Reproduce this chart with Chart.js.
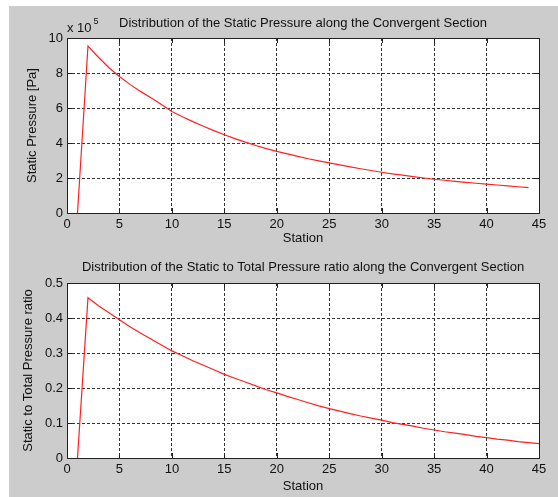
<!DOCTYPE html>
<html>
<head>
<meta charset="utf-8">
<script src="https://cdn.jsdelivr.net/npm/chart.js@4.4.1/dist/chart.umd.min.js"></script>
<style>
html, body { margin: 0; padding: 0; background: #fff; }
#fig { position: absolute; left: 9px; top: 6px; width: 549px; height: 491px; background: #cccccc; }
canvas { position: absolute; left: 0; }
#c1 { top: 0; }
#c2 { top: 244px; }
</style>
</head>
<body>
<div id="fig">
  <canvas id="c1" width="549" height="244"></canvas>
  <canvas id="c2" width="549" height="247"></canvas>
</div>
<script>
// station numbers and values
const stations1 = [1,2,3,4,5,6,7,8,9,10,11,12,13,14,15,16,17,18,19,20,21,22,23,24,25,26,27,28,29,30,31,32,33,34,35,36,37,38,39,40,41,42,43,44];
const staticPressure = [0, 954000, 890000, 830000, 780000, 735000, 695000, 658000, 620000, 580000,
  550000, 522000, 496000, 471000, 447000, 425000, 405000, 386000, 368000, 352000,
  338000, 324000, 310000, 298000, 286000, 275000, 264000, 253000, 243000, 233000,
  224000, 216000, 208000, 200000, 193000, 187000, 181000, 175000, 170000, 165000,
  160000, 155000, 150000, 145000];

const stations2 = [1,2,3,4,5,6,7,8,9,10,11,12,13,14,15,16,17,18,19,20,21,22,23,24,25,26,27,28,29,30,31,32,33,34,35,36,37,38,39,40,41,42,43,44,45];
const pressureRatio = [0, 0.458, 0.435, 0.415, 0.395, 0.375, 0.357, 0.340, 0.323, 0.306,
  0.292, 0.278, 0.265, 0.252, 0.239, 0.228, 0.217, 0.206, 0.195, 0.186,
  0.176, 0.167, 0.158, 0.149, 0.141, 0.134, 0.127, 0.120, 0.114, 0.108,
  0.101, 0.096, 0.091, 0.085, 0.080, 0.075, 0.071, 0.067, 0.062, 0.058,
  0.054, 0.051, 0.047, 0.044, 0.041];

const title1 = 'Distribution of the Static Pressure along the Convergent Section';
const title2 = 'Distribution of the Static to Total Pressure ratio along the Convergent Section';
const xLabel = 'Station';
const yLabel1 = 'Static Pressure [Pa]';
const yLabel2 = 'Static to Total Pressure ratio';

Chart.defaults.font.family = '"Liberation Sans", Arial, sans-serif';
Chart.defaults.font.size = 13;
Chart.defaults.color = '#111';

// matlab style axes: white area, box, inner tick marks, exponent label
const matlabAxes = {
  id: 'matlabAxes',
  beforeDraw(chart) {
    const a = chart.chartArea, ctx = chart.ctx;
    ctx.save();
    ctx.fillStyle = '#fff';
    ctx.fillRect(a.left, a.top, a.right - a.left, a.bottom - a.top);
    ctx.restore();
  },
  afterDraw(chart, args, opts) {
    const a = chart.chartArea, ctx = chart.ctx;
    ctx.save();
    ctx.strokeStyle = '#222';
    ctx.lineWidth = 1;
    ctx.setLineDash([]);
    ctx.beginPath();
    const xs = chart.scales.x, ys = chart.scales.y;
    xs.ticks.forEach(t => {
      const px = Math.round(xs.getPixelForValue(t.value)) + 0.5;
      ctx.moveTo(px, a.bottom); ctx.lineTo(px, a.bottom - 5);
      ctx.moveTo(px, a.top); ctx.lineTo(px, a.top + 5);
    });
    ys.ticks.forEach(t => {
      const py = Math.round(ys.getPixelForValue(t.value)) + 0.5;
      ctx.moveTo(a.left, py); ctx.lineTo(a.left + 5, py);
      ctx.moveTo(a.right, py); ctx.lineTo(a.right - 5, py);
    });
    ctx.stroke();
    ctx.strokeRect(Math.round(a.left) + 0.5, Math.round(a.top) + 0.5,
      Math.round(a.right - a.left), Math.round(a.bottom - a.top));
    if (opts.exponent) {
      ctx.fillStyle = '#111';
      ctx.textAlign = 'left';
      ctx.textBaseline = 'alphabetic';
      ctx.font = '13px "Liberation Sans", Arial, sans-serif';
      const base = 'x 10';
      ctx.fillText(base, a.left, a.top - 6);
      const w = ctx.measureText(base).width;
      ctx.font = '9px "Liberation Sans", Arial, sans-serif';
      ctx.fillText(opts.exponent, a.left + w + 2, a.top - 14);
    }
    ctx.restore();
  }
};

function makeChart(id, xs, ys, opts) {
  return new Chart(document.getElementById(id), {
    type: 'line',
    data: {
      datasets: [{
        data: xs.map((x, i) => ({ x: x, y: ys[i] })),
        borderColor: '#ff2020',
        borderWidth: 1.2,
        pointRadius: 0,
        fill: false,
        tension: 0
      }]
    },
    options: {
      responsive: false,
      animation: false,
      layout: { padding: { left: 0, right: 19, top: 0, bottom: 0 } },
      scales: {
        x: {
          type: 'linear',
          min: 0, max: 45,
          afterFit: s => { s.height = opts.xHeight; },
          ticks: { stepSize: 5, autoSkip: false, maxRotation: 0, padding: 4, color: '#111' },
          grid: { color: '#333', lineWidth: 1, drawTicks: false },
          border: { display: false, dash: [3, 2] },
          title: { display: true, text: xLabel, color: '#111', padding: { top: 0, bottom: opts.xTitlePad } }
        },
        y: {
          min: 0, max: opts.yMax,
          afterFit: s => { s.width = 58; },
          ticks: { stepSize: opts.yStep, padding: 4, color: '#111', callback: opts.yFormat },
          grid: { color: '#333', lineWidth: 1, drawTicks: false },
          border: { display: false, dash: [3, 2] },
          title: { display: true, text: opts.yLabel, color: '#111', padding: { top: opts.yTitlePad, bottom: 0 } }
        }
      },
      plugins: {
        legend: { display: false },
        tooltip: { enabled: false },
        title: {
          display: true,
          text: opts.title,
          fullSize: false,
          color: '#111',
          font: { size: 13, weight: 'normal' },
          padding: { top: opts.titleTop, bottom: opts.titleBottom }
        },
        matlabAxes: { exponent: opts.exponent }
      }
    },
    plugins: [matlabAxes]
  });
}

makeChart('c1', stations1, staticPressure, {
  title: title1, yLabel: yLabel1, yMax: 1000000, yStep: 200000,
  yFormat: v => String(Math.round(v / 100000)),
  xHeight: 37, xTitlePad: 4, yTitlePad: 16, titleTop: 9.5, titleBottom: 6.9,
  exponent: '5'
});

makeChart('c2', stations2, pressureRatio, {
  title: title2, yLabel: yLabel2, yMax: 0.5, yStep: 0.1,
  yFormat: v => String(+v.toFixed(1)),
  xHeight: 39, xTitlePad: 3, yTitlePad: 12, titleTop: 9.9, titleBottom: 7.5,
  exponent: null
});
</script>
</body>
</html>
